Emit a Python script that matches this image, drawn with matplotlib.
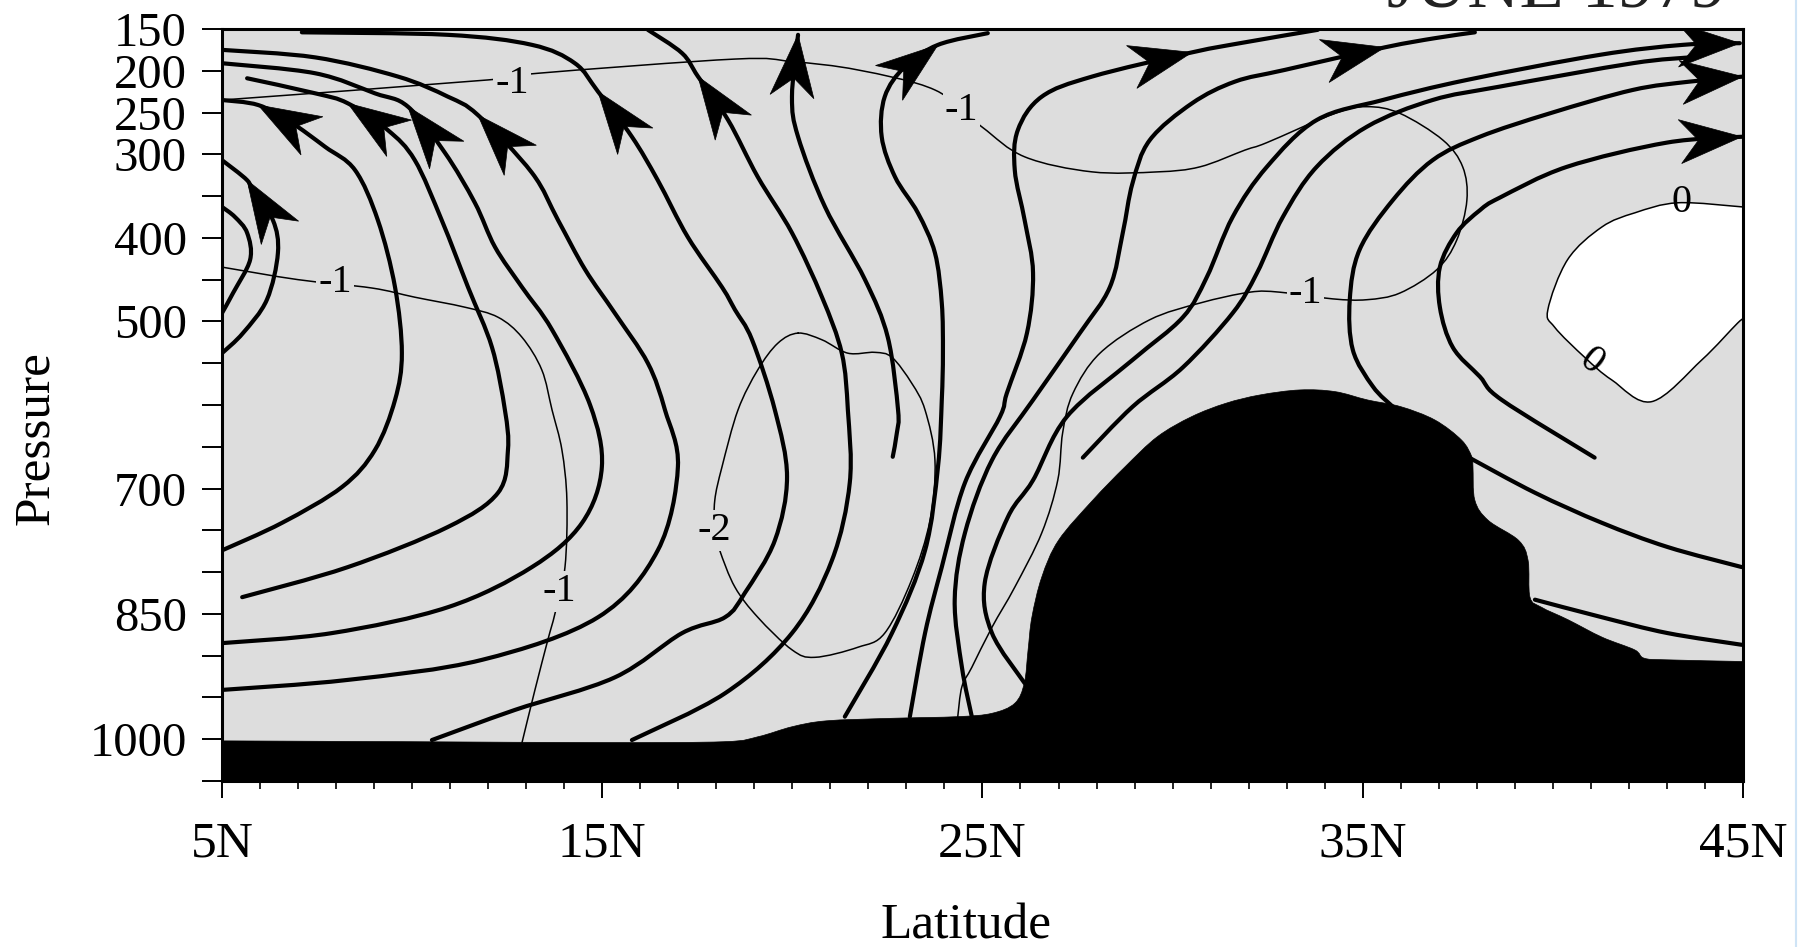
import numpy as np
import matplotlib
matplotlib.use('Agg')
import matplotlib.pyplot as plt
from matplotlib.path import Path
from matplotlib.patches import PathPatch, Polygon
from matplotlib.lines import Line2D

plt.rcParams['font.family'] = ['Liberation Serif', 'DejaVu Serif']

# axis ticks
LAT_TICKS = [5, 15, 25, 35, 45]
LAT_LABELS = ['5N', '15N', '25N', '35N', '45N']
P_TICKS = list(range(150, 1051, 50))
P_LABELED = [150, 200, 250, 300, 400, 500, 700, 850, 1000]

# surface pressure (black terrain)
TOPO_LAT = [5.0, 10.0, 15.0, 18.2, 19.1, 20.0, 20.9, 22.6, 24.35, 25.25, 25.85, 26.1, 26.2, 26.3,
            26.56, 27.0, 27.9, 28.75, 29.6, 30.5, 31.4, 32.3, 33.35, 34.27, 35.13, 36.0, 36.9,
            37.6, 37.87, 37.9, 37.95, 38.3, 39.1, 39.35, 39.4, 39.7, 40.4, 41.3, 42.15, 42.4, 43.0, 45.0]
TOPO_P = [1002, 1003, 1004, 1003, 997, 985, 978, 975, 973, 969, 957, 933, 893, 854,
          806, 762, 714, 674, 638, 614, 598, 588, 582, 584, 594, 602, 618,
          642, 662, 674, 714, 738, 762, 786, 830, 842, 857, 878, 893, 903, 905, 907]

# zero contour (bounds the positive, unshaded area)
ZERO_LAT = [45.0, 43.29, 42.16, 41.29, 40.39, 39.87, 40.05, 40.84, 41.55, 42.6, 43.92, 44.86, 45.0]
ZERO_P = [363, 358, 370, 387, 426, 486, 507, 543, 570, 596, 546, 502, 498]

# -1 contour, upper
CTOP_LAT = [5.0, 11.99, 13.31, 18.49, 19.99, 21.72, 23.75, 24.98, 26.11, 27.88, 29.61, 30.72, 31.90,
            32.48, 34.27, 35.11, 35.98, 37.11, 37.63, 37.74, 37.47, 36.95, 35.98, 35.11, 34.21,
            32.82, 32.03, 30.72, 29.40, 28.09, 27.38, 27.11, 26.98, 26.56, 25.85, 25.25, 24.72,
            24.46, 24.35]
CTOP_P = [235, 211, 203, 186, 189, 199, 223, 267, 303, 321, 321, 315, 295,
          286, 251, 243, 251, 283, 315, 355, 403, 438, 466, 474, 473,
          465, 465, 478, 498, 538, 586, 633, 690, 753, 818, 866, 914,
          937, 973]

# -1 contour, lower left
CLEFT_LAT = [5.0, 7.0, 8.94, 10.07, 11.39, 12.26, 12.89, 13.41, 13.68, 13.94, 14.07, 14.02,
             13.76, 13.57, 13.23, 12.89]
CLEFT_P = [435, 450, 460, 471, 483, 495, 519, 558, 606, 654, 714, 794, 849, 881, 941, 1004]

# -2 contour (closed)
CM2_LAT = [20.15, 20.78, 21.46, 22.17, 22.62, 23.14, 23.49, 23.75, 23.62, 23.14, 22.43, 21.72,
           20.59, 19.99, 19.09, 18.49, 18.09, 17.96, 17.96, 18.15, 18.57, 19.09, 19.62]
CM2_P = [514, 522, 538, 537, 543, 574, 606, 666, 738, 809, 873, 890,
         902, 893, 854, 818, 774, 750, 714, 674, 606, 558, 526]

# contour labels
LABEL_TEXT = ['-1', '-1', '-1', '-1', '-1', '-2', '0', '0']
LABEL_LAT = [12.63, 24.45, 7.97, 13.86, 33.5, 17.96, 43.39, 41.0]
LABEL_P = [215, 247, 454, 823, 466, 750, 358, 548]
LABEL_ROT = [0, 0, 0, 0, 0, 0, 0, -38]

# streamlines, listed in flow direction
ARC_F_LAT = [5.0, 5.34, 5.66, 5.74, 5.29, 5.0]
ARC_F_P = [363, 375, 394, 426, 466, 490]

ARC_G_LAT = [5.0, 5.55, 6.18, 6.47, 6.34, 5.82, 5.66, 5.0]
ARC_G_P = [538, 514, 474, 418, 379, 346, 331, 307]

LINE_E_LAT = [5.0, 6.58, 8.16, 9.02, 9.55, 9.73, 9.55, 9.10, 8.50, 7.71, 6.79, 5.95, 5.0]
LINE_E_P = [774, 741, 698, 654, 594, 538, 459, 379, 319, 291, 261, 241, 235]

LINE_D_LAT = [5.53, 8.31, 10.94, 12.26, 12.52, 12.44, 12.10, 11.47, 10.78, 10.07, 9.36, 8.31, 7.45, 5.66]
LINE_D_P = [830, 794, 746, 705, 654, 606, 531, 459, 379, 307, 271, 239, 227, 209]

LINE_C_LAT = [5.0, 7.89, 10.94, 13.15, 14.47, 14.99, 14.68, 13.68, 12.89, 12.18, 11.65, 10.86,
              9.89, 9.02, 7.45, 5.0]
LINE_C_P = [885, 873, 842, 794, 741, 674, 600, 510, 459, 411, 358, 298, 243, 227, 203, 191]

LINE_B_LAT = [5.0, 8.31, 11.84, 14.89, 16.46, 16.99, 16.65, 16.20, 15.33, 14.55, 13.84, 13.15,
              11.73, 10.94, 9.63, 7.45, 5.0]
LINE_B_P = [941, 929, 905, 854, 774, 674, 606, 550, 490, 438, 379, 322, 253, 231, 207, 184, 175]

LINE_A_LAT = [10.52, 12.70, 15.33, 17.10, 18.23, 18.75, 19.54, 19.86, 19.54, 18.94, 18.49, 18.15,
              17.25, 16.46, 15.78, 14.89, 14.28, 13.15, 10.94, 7.10]
LINE_A_P = [1001, 965, 926, 873, 854, 825, 762, 686, 606, 522, 486, 459, 399, 331, 279, 225,
            191, 169, 157, 154]

LINE_A2_LAT = [15.78, 18.23, 19.99, 21.04, 21.51, 21.46, 21.30, 20.78, 19.99, 19.09, 18.31,
               17.52, 17.10, 16.20]
LINE_A2_P = [1001, 945, 873, 786, 693, 606, 538, 471, 394, 327, 259, 207, 179, 151]

LINE_S_LAT = [22.64, 22.75, 22.78, 22.51, 21.91, 20.86, 20.15, 19.99, 20.15]
LINE_S_P = [662, 633, 606, 519, 450, 363, 279, 231, 157]

LINE_R_LAT = [21.38, 22.62, 23.49, 23.83, 23.93, 23.96, 23.93, 23.75, 23.30, 22.70, 22.35,
              22.43, 22.96, 23.83, 25.14]
LINE_R_P = [973, 873, 774, 674, 594, 538, 478, 418, 370, 327, 279, 231, 195, 169, 155]

LINE_Q_LAT = [23.09, 23.49, 23.93, 24.54, 25.46, 25.64, 26.17, 26.33, 26.11, 25.85, 25.93,
              26.56, 27.88, 30.51, 31.90, 33.82]
LINE_Q_P = [973, 873, 794, 693, 614, 586, 514, 442, 379, 319, 271, 231, 207, 178, 166, 151]

LINE_P_LAT = [24.72, 24.46, 24.27, 24.54, 25.25, 26.33, 27.56, 28.35, 28.69, 28.95, 29.40,
              30.51, 31.64, 32.95, 35.58, 36.90, 37.95]
LINE_P_P = [973, 914, 833, 753, 666, 594, 514, 459, 394, 334, 283, 239, 213, 199, 172, 161, 154]

LINE_K3_LAT = [26.11, 25.25, 25.06, 25.67, 26.33, 27.22, 28.95, 30.27, 30.90, 31.58, 32.48,
               33.79, 35.53, 37.74, 41.23, 43.42, 44.92]
LINE_K3_P = [933, 873, 813, 734, 690, 614, 546, 495, 447, 375, 315, 259, 235, 211, 181, 169, 167]

LINE_K4_LAT = [27.64, 28.95, 30.27, 31.58, 32.22, 32.90, 33.79, 35.11, 36.84, 38.60, 42.10, 43.60]
LINE_K4_P = [663, 602, 555, 490, 442, 375, 315, 267, 235, 219, 191, 184]

LINE_K5_LAT = [35.79, 35.27, 34.74, 34.66, 34.92, 35.79, 36.84, 38.08, 39.92, 42.10, 43.60, 45.0]
LINE_K5_P = [602, 578, 534, 474, 414, 355, 307, 279, 251, 223, 213, 207]

LINE_K6_LAT = [41.10, 38.66, 38.08, 37.37, 37.03, 37.03, 37.47, 38.08, 38.60, 40.37, 43.0, 44.97]
LINE_K6_P = [663, 594, 566, 531, 483, 435, 394, 367, 352, 315, 286, 279]

LINE_Z1_LAT = [37.76, 39.53, 41.29, 43.02, 44.97]
LINE_Z1_P = [662, 705, 741, 770, 794]

LINE_Z2_LAT = [39.53, 41.29, 43.02, 44.97]
LINE_Z2_P = [833, 854, 873, 887]

# index of the arrow tip on each streamline (None = no arrow)
ARROW_G = 6
ARROW_E = 11
ARROW_D = 11
ARROW_C = 12
ARROW_B = 12
ARROW_A = 15
ARROW_A2 = 11
ARROW_S = 8
ARROW_R = 13
ARROW_Q = 13
ARROW_P = 14
ARROW_K3 = 16
ARROW_K5 = 11
ARROW_K6 = 11

SHADE = '#dddddd'


def curve_verts(x, y, closed=False):
    """Catmull-Rom curve through the traced points, as bezier vertices/codes."""
    pts = np.column_stack([x, y]).astype(float)
    n = len(pts)
    if closed:
        ext = np.vstack([pts[-1], pts, pts[0], pts[1]])
        nseg = n
    else:
        ext = np.vstack([pts[0], pts, pts[-1]])
        nseg = n - 1
    verts = [pts[0]]
    codes = [Path.MOVETO]
    for i in range(nseg):
        p0, p1, p2, p3 = ext[i], ext[i + 1], ext[i + 2], ext[i + 3]
        verts += [p1 + (p2 - p0) / 6.0, p2 - (p3 - p1) / 6.0, p2]
        codes += [Path.CURVE4] * 3
    return verts, codes


def draw_line(ax, x, y, lw, z, closed=False):
    verts, codes = curve_verts(x, y, closed)
    ax.add_patch(PathPatch(Path(verts, codes), fill=False, ec='black',
                           lw=lw, capstyle='round', joinstyle='round', zorder=z))


def fill_below(ax, x, y, bottom_pts, color, z):
    # smooth along the traced edge, straight back along the frame
    verts, codes = curve_verts(x, y)
    for bp in bottom_pts:
        verts.append(bp)
        codes.append(Path.LINETO)
    verts.append(verts[0])
    codes.append(Path.CLOSEPOLY)
    ax.add_patch(PathPatch(Path(verts, codes), fc=color, ec=color, lw=0.5, zorder=z))


def draw_arrow(ax, x, y, i, length=62, half=22, notch=0.7):
    trans = ax.transData
    pts = trans.transform(np.column_stack([x, y]).astype(float))
    tip = pts[i]
    # walk back along the line to get the heading over the arrow length
    back = tip.copy()
    dist = 0.0
    j = i
    while j > 0 and dist < 0.8 * length:
        seg = np.linalg.norm(pts[j] - pts[j - 1])
        if dist + seg >= 0.8 * length:
            t = (0.8 * length - dist) / seg
            back = pts[j] + t * (pts[j - 1] - pts[j])
            break
        dist += seg
        j -= 1
        back = pts[j]
    d = tip - back
    d = d / np.linalg.norm(d)
    nrm = np.array([-d[1], d[0]])
    poly = np.array([tip,
                     tip - length * d + half * nrm,
                     tip - notch * length * d,
                     tip - length * d - half * nrm])
    ax.add_patch(Polygon(trans.inverted().transform(poly), closed=True, fc='black',
                         ec='black', lw=0.5, zorder=3.5))


fig = plt.figure(figsize=(18.08, 9.47), dpi=100)
ax = fig.add_axes([0.1228, 0.1753, 0.8412, 0.7941])
ax.set_facecolor(SHADE)
ax.set_xlim(5, 45)
ax.set_ylim(1050, 150)

# positive region bounded by the zero contour
fill_below(ax, ZERO_LAT, ZERO_P, [], 'white', 1)

# thin contours
draw_line(ax, ZERO_LAT, ZERO_P, 1.1, 2)
draw_line(ax, CTOP_LAT, CTOP_P, 1.1, 2)
draw_line(ax, CLEFT_LAT, CLEFT_P, 1.1, 2)
draw_line(ax, CM2_LAT, CM2_P, 1.1, 2, closed=True)

for txt, la, pr, rot in zip(LABEL_TEXT, LABEL_LAT, LABEL_P, LABEL_ROT):
    if txt == '0':
        # the zero labels sit on their line in the original
        ax.text(la, pr, txt, fontsize=29, ha='center', va='center', rotation=rot, zorder=2.5)
    else:
        ax.text(la, pr, txt, fontsize=29, ha='center', va='center', rotation=rot, zorder=2.5,
                bbox=dict(boxstyle='square,pad=0.05', fc=SHADE, ec='none'))

streams = [
    (ARC_F_LAT, ARC_F_P, None),
    (ARC_G_LAT, ARC_G_P, ARROW_G),
    (LINE_E_LAT, LINE_E_P, ARROW_E),
    (LINE_D_LAT, LINE_D_P, ARROW_D),
    (LINE_C_LAT, LINE_C_P, ARROW_C),
    (LINE_B_LAT, LINE_B_P, ARROW_B),
    (LINE_A_LAT, LINE_A_P, ARROW_A),
    (LINE_A2_LAT, LINE_A2_P, ARROW_A2),
    (LINE_S_LAT, LINE_S_P, ARROW_S),
    (LINE_R_LAT, LINE_R_P, ARROW_R),
    (LINE_Q_LAT, LINE_Q_P, ARROW_Q),
    (LINE_P_LAT, LINE_P_P, ARROW_P),
    (LINE_K3_LAT, LINE_K3_P, ARROW_K3),
    (LINE_K4_LAT, LINE_K4_P, None),
    (LINE_K5_LAT, LINE_K5_P, ARROW_K5),
    (LINE_K6_LAT, LINE_K6_P, ARROW_K6),
    (LINE_Z1_LAT, LINE_Z1_P, None),
    (LINE_Z2_LAT, LINE_Z2_P, None),
]
for la, pr, arr in streams:
    draw_line(ax, la, pr, 3.0, 3)
    if arr is not None:
        draw_arrow(ax, la, pr, arr)

# terrain
fill_below(ax, TOPO_LAT, TOPO_P, [(45.0, 1050), (5.0, 1050)], 'black', 5)

# axes styling
ax.set_xticks(LAT_TICKS)
ax.set_xticklabels(LAT_LABELS)
ax.set_xticks(range(5, 46), minor=True)
ax.set_yticks(P_TICKS)
ax.set_yticklabels([str(v) if v in P_LABELED else '' for v in P_TICKS])
ax.tick_params(axis='y', which='major', length=14.4, width=1.4, direction='out', pad=11,
               labelsize=35)
ax.tick_params(axis='x', which='major', length=12, width=1.4, direction='out', pad=17,
               labelsize=37)
ax.tick_params(axis='x', which='minor', length=6, width=1.2, direction='out')
for s in ax.spines.values():
    s.set_linewidth(2.2)
    s.set_zorder(6)

ax.set_xlabel('Latitude', fontsize=37, va='center')
ax.xaxis.set_label_coords(0.489, -0.193)
ax.set_ylabel('Pressure', fontsize=37, va='center')
ax.yaxis.set_label_coords(-0.1223, 0.456)

# title, mostly cut off at the top of the frame
fig.text(1727 / 1808, 1 - 7 / 947, 'JUNE 1979', ha='right', va='baseline', fontsize=52,
         color='#222222')
fig.add_artist(Line2D([1796 / 1808, 1796 / 1808], [0, 1], color='#cfe4f6', lw=1.5))

fig.savefig('out.png', dpi=100)
